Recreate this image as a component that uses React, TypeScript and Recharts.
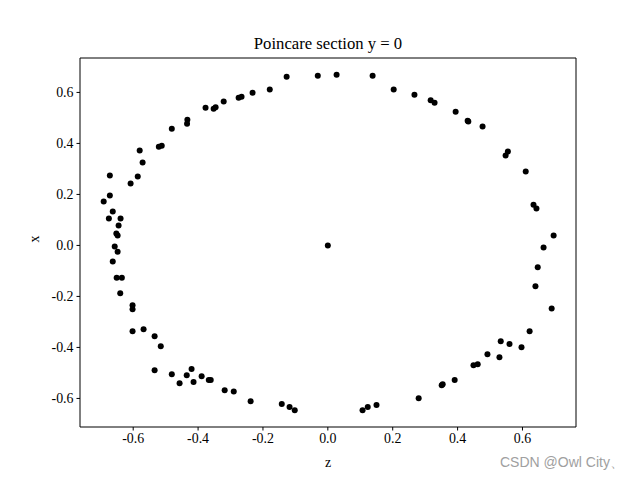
import { ScatterChart, Scatter, XAxis, YAxis, ReferenceArea, Label } from 'recharts'

// poincare section points
const zValues = [
  0, -0.031, -0.127, -0.179, -0.232, -0.266, -0.275, -0.321, -0.346, -0.352, -0.377,
  -0.433, -0.434, -0.481, -0.512, -0.521, -0.580, -0.571, -0.586, -0.608,
  -0.672, -0.672, -0.691, -0.663, -0.675, -0.639, -0.645, -0.652, -0.648,
  0.027, 0.138, 0.203, 0.267, 0.317, 0.329, 0.394, 0.433, 0.431, 0.477,
  0.555, 0.548, 0.610, 0.634, 0.643, 0.696,
  -0.657, -0.648, -0.663, -0.651, -0.635, -0.640, -0.602, -0.602, -0.602, -0.568,
  -0.534, -0.515, -0.534, -0.481, -0.457, -0.435, -0.420, -0.414, -0.389, -0.367,
  -0.361, -0.318, -0.290, -0.238, -0.142, -0.118, -0.102,
  0.665, 0.647, 0.640, 0.690, 0.622, 0.533, 0.560, 0.597, 0.492, 0.529,
  0.449, 0.462, 0.391, 0.354, 0.351, 0.280, 0.150, 0.123, 0.107,
]
const xValues = [
  0, 0.665, 0.661, 0.611, 0.599, 0.583, 0.579, 0.564, 0.542, 0.536, 0.540,
  0.493, 0.477, 0.458, 0.391, 0.387, 0.372, 0.325, 0.270, 0.243,
  0.274, 0.196, 0.172, 0.133, 0.106, 0.106, 0.078, 0.047, 0.039,
  0.669, 0.665, 0.611, 0.591, 0.569, 0.560, 0.524, 0.486, 0.489, 0.466,
  0.368, 0.353, 0.290, 0.160, 0.145, 0.039,
  -0.004, -0.025, -0.063, -0.127, -0.127, -0.188, -0.235, -0.250, -0.337, -0.329,
  -0.356, -0.395, -0.489, -0.505, -0.540, -0.509, -0.485, -0.536, -0.513, -0.528,
  -0.528, -0.568, -0.573, -0.611, -0.622, -0.634, -0.646,
  -0.008, -0.086, -0.160, -0.247, -0.337, -0.376, -0.387, -0.399, -0.427, -0.438,
  -0.470, -0.466, -0.528, -0.544, -0.548, -0.599, -0.626, -0.634, -0.646,
]
const ticks = [-0.6, -0.4, -0.2, 0, 0.2, 0.4, 0.6]

const points = zValues.map((z, i) => ({ z, x: xValues[i] }))

const X_DOMAIN: [number, number] = [-0.764, 0.765]
const Y_DOMAIN: [number, number] = [-0.712, 0.735]
const FONT = "'Liberation Serif', 'Times New Roman', serif"

const Dot = (props: any) => <circle cx={props.cx} cy={props.cy} r={3} fill="#000" />

// ticks drawn through the axis, only the font is forced to serif
const XTick = ({ x, y, payload }: any) => (
  <text x={x} y={y} dy="0.71em" textAnchor="middle" fontSize={13.9} fontFamily={FONT} fill="#000">
    {payload.value.toFixed(1)}
  </text>
)
const YTick = ({ x, y, payload }: any) => (
  <text x={x} y={y} dy="0.355em" textAnchor="end" fontSize={13.9} fontFamily={FONT} fill="#000">
    {payload.value.toFixed(1)}
  </text>
)

export default function App() {
  return (
    <div style={{ position: 'relative', width: 640, height: 480, background: '#fff', fontFamily: FONT }}>
      <style>{'body{margin:0}'}</style>
      <ScatterChart width={640} height={480} margin={{ top: 58, right: 64, bottom: 13, left: 20 }}
        style={{ fontFamily: FONT }}>
        <XAxis type="number" dataKey="z" domain={X_DOMAIN} ticks={ticks} allowDataOverflow
          tick={<XTick />} height={40}
          tickSize={3.5} tickMargin={3} axisLine={false} tickLine={{ stroke: '#000' }}>
          <Label value="z" position="insideBottom" offset={0}
            style={{ fontSize: 13.9, fill: '#000', fontFamily: FONT }} />
        </XAxis>
        <YAxis type="number" dataKey="x" domain={Y_DOMAIN} ticks={ticks} allowDataOverflow
          tick={<YTick />} width={60}
          tickSize={3.5} tickMargin={3} axisLine={false} tickLine={{ stroke: '#000' }}>
          <Label value="x" angle={-90} position="insideLeft" offset={14}
            style={{ fontSize: 13.9, fill: '#000', fontFamily: FONT }} />
        </YAxis>
        <ReferenceArea x1={X_DOMAIN[0]} x2={X_DOMAIN[1]} y1={Y_DOMAIN[0]} y2={Y_DOMAIN[1]}
          fill="none" fillOpacity={0} stroke="#000" strokeWidth={1} ifOverflow="visible" />
        <Scatter data={points} fill="#000" shape={Dot} isAnimationActive={false} />
      </ScatterChart>
      <svg width={640} height={480} style={{ position: 'absolute', left: 0, top: 0, pointerEvents: 'none' }}>
        <text x={328} y={49} textAnchor="middle" fontSize={16.7} fontFamily={FONT} fill="#000">
          Poincare section y = 0
        </text>
        <text x={500} y={467} fontSize={14} fontFamily="'Liberation Sans', Arial, sans-serif" fill="#a0a0a0">
          CSDN @Owl City、
        </text>
      </svg>
    </div>
  )
}
